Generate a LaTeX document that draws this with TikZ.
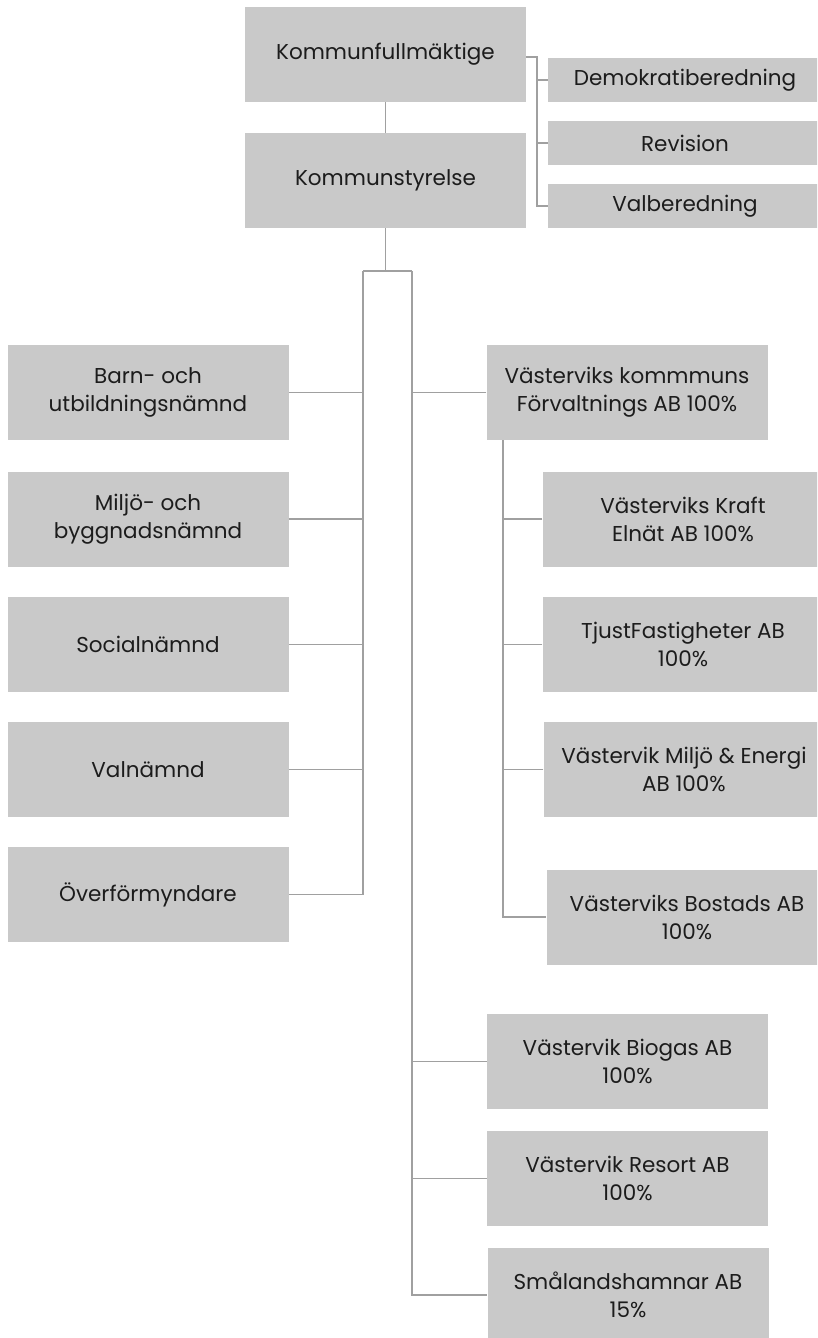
\documentclass[tikz,border=0pt]{standalone}
\usepackage{fontspec}
\setmainfont{Poppins}
\usepackage{tikz}
\definecolor{boxgray}{RGB}{201,201,201}
\definecolor{linegray}{RGB}{160,160,160}
\definecolor{textgray}{RGB}{28,28,28}
\begin{document}
\begin{tikzpicture}[x=1pt,y=-1pt]
\tikzstyle{every node}+=[inner sep=0pt]
\tikzstyle{unit}=[fill=boxgray, text=textgray, align=center, minimum width=281pt, minimum height=95pt, font=\fontsize{21.5}{28}\selectfont]
\tikzstyle{small}=[unit, minimum width=274pt, minimum height=44pt]
\tikzstyle{link}=[draw=linegray, line width=1.5pt]
\useasboundingbox (0,0) rectangle (817,1338);
\clip (0,0) rectangle (817,1338);
\draw (385.5,54.5) node[unit] (kf) {Kommunfullmäktige};
\draw (385.5,180.5) node[unit] (ks) {Kommunstyrelse};
\draw (685,80) node[small] (demo) {Demokratiberedning};
\draw (685,143) node[small] (rev) {Revision};
\draw (685,206) node[small] (valb) {Valberedning};
\draw (148,392.5) node[unit] (barn) {Barn- och\\utbildningsnämnd};
\draw (148,519) node[unit] (miljo) {Miljö- och\\byggnadsnämnd};
\draw (148,644.5) node[unit] (soc) {Socialnämnd};
\draw (148,769.5) node[unit] (valn) {Valnämnd};
\draw (148,894.5) node[unit] (ofm) {Överförmyndare};
\draw (627,392.5) node[unit] (vkf) {Västerviks kommmuns\\Förvaltnings AB 100\%};
\draw (683,519) node[unit] (kraft) {Västerviks Kraft\\Elnät AB 100\%};
\draw (683,644.5) node[unit] (tjust) {TjustFastigheter AB\\100\%};
\draw (684,769.5) node[unit] (mee) {Västervik Miljö \& Energi\\AB 100\%};
\draw (687,917) node[unit] (bost) {Västerviks Bostads AB\\100\%};
\draw (627.5,1061.5) node[unit] (bio) {Västervik Biogas AB\\100\%};
\draw (627.5,1178.5) node[unit] (res) {Västervik Resort AB\\100\%};
\draw (628,1295) node[unit] (sml) {Smålandshamnar AB\\15\%};
\coordinate (brk) at (537,57);
\coordinate (busL) at (363,271);
\coordinate (busR) at (412,271);
\coordinate (sub) at (503,440);
\draw [link] (kf) -- (ks);
\draw [link] (kf.east |- brk) -- (brk) |- (valb.west);
\draw [link] (demo.west) -- (demo.west -| brk);
\draw [link] (rev.west) -- (rev.west -| brk);
\draw [link] (ks.south) -- (ks.south |- busL);
\draw [link] (busL) -- (busR);
\draw [link] (busL) |- (ofm.east);
\draw [link] (barn.east) -- (barn.east -| busL);
\draw [link] (miljo.east) -- (miljo.east -| busL);
\draw [link] (soc.east) -- (soc.east -| busL);
\draw [link] (valn.east) -- (valn.east -| busL);
\draw [link] (busR) |- (sml.west);
\draw [link] (vkf.west) -- (vkf.west -| busR);
\draw [link] (bio.west) -- (bio.west -| busR);
\draw [link] (res.west) -- (res.west -| busR);
\draw [link] (sub) |- (bost.west);
\draw [link] (kraft.west) -- (kraft.west -| sub);
\draw [link] (tjust.west) -- (tjust.west -| sub);
\draw [link] (mee.west) -- (mee.west -| sub);
\end{tikzpicture}
\end{document}
